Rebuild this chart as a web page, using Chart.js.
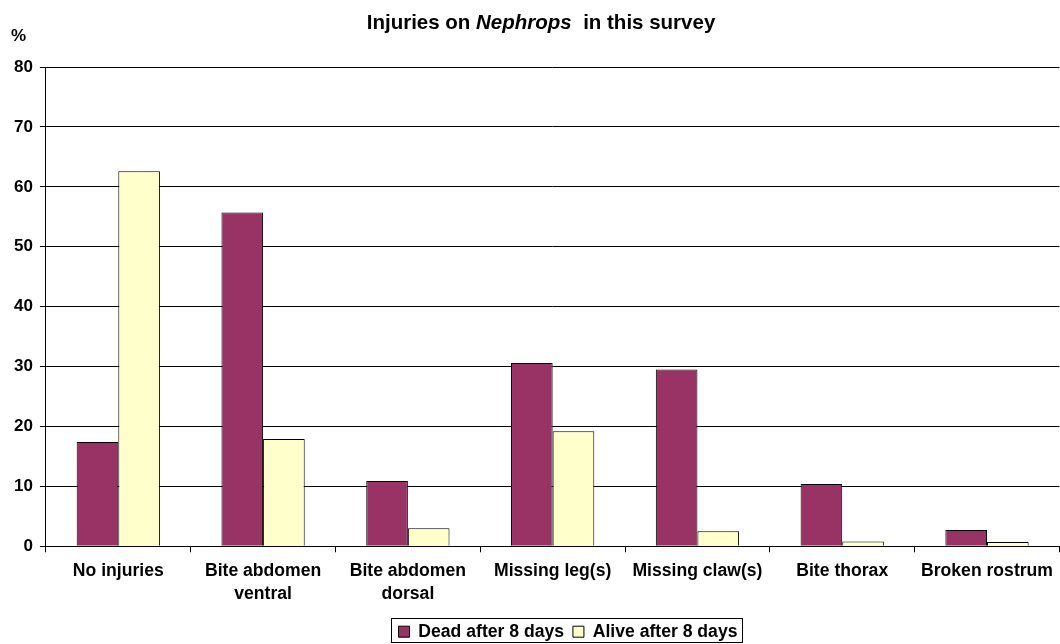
<!DOCTYPE html>
<html>
<head>
<meta charset="utf-8">
<script src="https://cdn.jsdelivr.net/npm/chart.js@4"></script>
<style>
  html, body { margin: 0; padding: 0; background: #fff; }
  #wrap { width: 1060px; height: 644px; }
</style>
</head>
<body>
<div id="wrap"><canvas id="injuries_chart"></canvas></div>
<script>
var categories = ['No injuries', ['Bite abdomen', 'ventral'], ['Bite abdomen', 'dorsal'],
  'Missing leg(s)', 'Missing claw(s)', 'Bite thorax', 'Broken rostrum'];
var dead = [17.4, 55.7, 10.9, 30.6, 29.5, 10.4, 2.7];
var alive = [62.6, 17.9, 3.0, 19.2, 2.5, 0.8, 0.7];
var yTicks = [0, 10, 20, 30, 40, 50, 60, 70, 80];

var FONT = '"Liberation Sans", Arial, sans-serif';
var LEGEND_DX = 34.5;
var LEGEND_DY = 6.5;

// title with italic genus name, "%" label, border round the legend
var extras = {
  id: 'extras',
  afterLayout: function(chart) {
    // legend sits right of centre and a bit lower in the original
    var lg = chart.legend;
    lg.left += LEGEND_DX;
    lg.right += LEGEND_DX;
    lg.top += LEGEND_DY;
    lg.bottom += LEGEND_DY;
    lg.legendHitBoxes.forEach(function(b) { b.left += LEGEND_DX; b.top += LEGEND_DY; });
  },
  afterDraw: function(chart) {
    var ctx = chart.ctx;
    ctx.save();
    ctx.fillStyle = '#000';
    ctx.textBaseline = 'middle';
    var parts = [
      ['bold 20.5px ' + FONT, 'Injuries on '],
      ['italic bold 20.5px ' + FONT, 'Nephrops'],
      ['bold 20.5px ' + FONT, '  in this survey']
    ];
    var total = 0;
    parts.forEach(function(p) { ctx.font = p[0]; total += ctx.measureText(p[1]).width; });
    var x = 541 - total / 2;
    parts.forEach(function(p) {
      ctx.font = p[0];
      ctx.textAlign = 'left';
      ctx.fillText(p[1], x, 23);
      x += ctx.measureText(p[1]).width;
    });
    ctx.font = 'bold 17px ' + FONT;
    ctx.fillText('%', 11, 36);

    var hb = chart.legend.legendHitBoxes;
    var l = hb[0].left;
    var r = hb[hb.length - 1].left + hb[hb.length - 1].width;
    ctx.strokeStyle = '#000';
    ctx.lineWidth = 1;
    ctx.strokeRect(Math.round(l) - 7.5, 618.5, Math.round(r - l) + 12, 24);
    ctx.restore();
  }
};

new Chart('injuries_chart', {
  type: 'bar',
  data: {
    labels: categories,
    datasets: [{
      label: 'Dead after 8 days',
      data: dead,
      backgroundColor: '#993366',
      borderColor: '#000',
      borderWidth: 1
    }, {
      label: 'Alive after 8 days',
      data: alive,
      backgroundColor: '#FFFFCC',
      borderColor: '#000',
      borderWidth: 1
    }]
  },
  options: {
    responsive: true,
    maintainAspectRatio: false,
    animation: false,
    events: [],
    layout: { padding: { top: 67, left: 7, right: 0, bottom: 0 } },
    datasets: { bar: { barPercentage: 1, categoryPercentage: 0.575 } },
    plugins: {
      title: { display: false },
      tooltip: { enabled: false },
      legend: {
        position: 'bottom',
        labels: {
          color: '#000',
          font: { family: FONT, size: 17.6, weight: 'bold' },
          boxWidth: 11,
          boxHeight: 11,
          padding: 4,
          generateLabels: function(chart) {
            var items = Chart.defaults.plugins.legend.labels.generateLabels(chart);
            items[0].text += ' ';
            return items;
          }
        }
      }
    },
    scales: {
      x: {
        grid: { offset: true, drawOnChartArea: false, color: '#000', tickLength: 6 },
        border: { color: '#000', width: 1 },
        ticks: { color: '#000', font: { family: FONT, size: 17.6, weight: 'bold', lineHeight: 1.31 }, padding: 7, maxRotation: 0, autoSkip: false }
      },
      y: {
        min: 0,
        max: 80,
        afterBuildTicks: function(axis) { axis.ticks = yTicks.map(function(v) { return { value: v }; }); },
        grid: { color: '#000', tickLength: 6 },
        border: { color: '#000', width: 1 },
        ticks: { color: '#000', font: { family: FONT, size: 17, weight: 'bold' }, padding: 7 }
      }
    }
  },
  plugins: [extras]
});
</script>
</body>
</html>
